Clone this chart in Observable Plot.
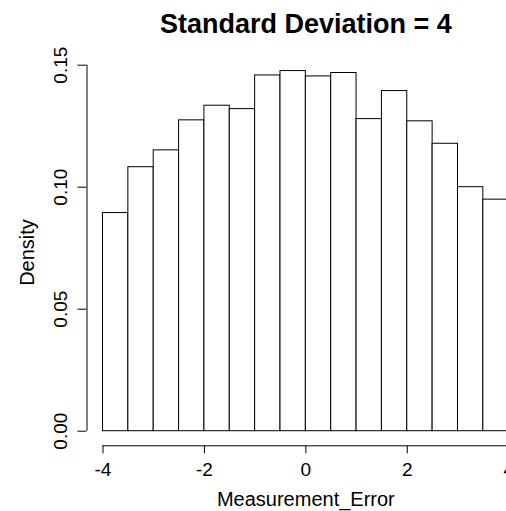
<!DOCTYPE html>
<html>
<head>
<meta charset="utf-8">
<script src="https://cdn.jsdelivr.net/npm/d3@7"></script>
<script src="https://cdn.jsdelivr.net/npm/@observablehq/plot@0.6"></script>
<style>
  html, body { margin: 0; padding: 0; background: #fff; overflow: hidden; }
  #chart svg { display: block; }
</style>
</head>
<body>
<div id="chart"></div>
<script>
// Histogram of measurement error (density scale), bin width 0.5
const binEdges = [-4, -3.5, -3, -2.5, -2, -1.5, -1, -0.5, 0, 0.5, 1, 1.5, 2, 2.5, 3, 3.5, 4];
const density = [0.0894, 0.1082, 0.1151, 0.1274, 0.1334, 0.1320, 0.1458, 0.1476,
                 0.1454, 0.1468, 0.1279, 0.1394, 0.1270, 0.1178, 0.1000, 0.0949];
const xTicks = [-4, -2, 0, 2, 4];
const yTicks = [0.00, 0.05, 0.10, 0.15];
const titleText = "Standard Deviation = 4";
const xLabel = "Measurement_Error";
const yLabel = "Density";

const bins = density.map((d, i) => ({x1: binEdges[i], x2: binEdges[i + 1], density: d}));

const font = "'Liberation Sans', Arial, Helvetica, sans-serif";

const chart = Plot.plot({
  width: 506,
  height: 511,
  marginLeft: 102.5,
  marginRight: 0,
  marginTop: 64.7,
  marginBottom: 80.3,
  style: {fontFamily: font, background: "#fff", color: "#000"},
  x: {domain: [binEdges[0], binEdges[binEdges.length - 1]], range: [102.5, 508.2]},
  y: {domain: [0, 0.15]},
  marks: [
    // bars
    Plot.rectY(bins, {x1: "x1", x2: "x2", y1: 0, y2: "density", fill: "#fff", stroke: "#000", strokeWidth: 1}),
    // y axis (offset from the plot region)
    Plot.ruleX([binEdges[0]], {y1: yTicks[0], y2: yTicks[yTicks.length - 1], dx: -16, stroke: "#000"}),
    Plot.axisY(yTicks, {anchor: "left", tickSize: 9, dx: -16, tickFormat: () => "", label: null, stroke: "#000"}),
    Plot.text(yTicks, {y: d => d, text: d => d.toFixed(2), frameAnchor: "left", textAnchor: "middle", lineAnchor: "middle",
                       dx: -42.5, rotate: -90, fontSize: 19, fill: "#000"}),
    // x axis (offset below the plot region)
    Plot.ruleY([0], {x1: xTicks[0], x2: xTicks[xTicks.length - 1], dy: 14.6, stroke: "#000"}),
    Plot.axisX(xTicks, {anchor: "bottom", tickSize: 8, dy: 14.6, tickFormat: () => "", label: null, stroke: "#000"}),
    Plot.text(xTicks, {x: d => d, text: d => String(d), frameAnchor: "bottom", textAnchor: "middle", lineAnchor: "middle",
                       dy: 38.3, fontSize: 19, fill: "#000"}),
    // titles
    Plot.text([titleText], {x: 0, frameAnchor: "top", textAnchor: "middle", lineAnchor: "middle",
                            dy: -40.7, fontSize: 27, fontWeight: "bold", fill: "#000"}),
    Plot.text([xLabel], {x: 0, frameAnchor: "bottom", textAnchor: "middle", lineAnchor: "middle",
                         dy: 68.3, fontSize: 20, fill: "#000"}),
    Plot.text([yLabel], {frameAnchor: "left", textAnchor: "middle", lineAnchor: "middle",
                         dx: -75.5, dy: 4.3, rotate: -90, fontSize: 20, fill: "#000"})
  ]
});

document.getElementById("chart").appendChild(chart);
</script>
</body>
</html>
